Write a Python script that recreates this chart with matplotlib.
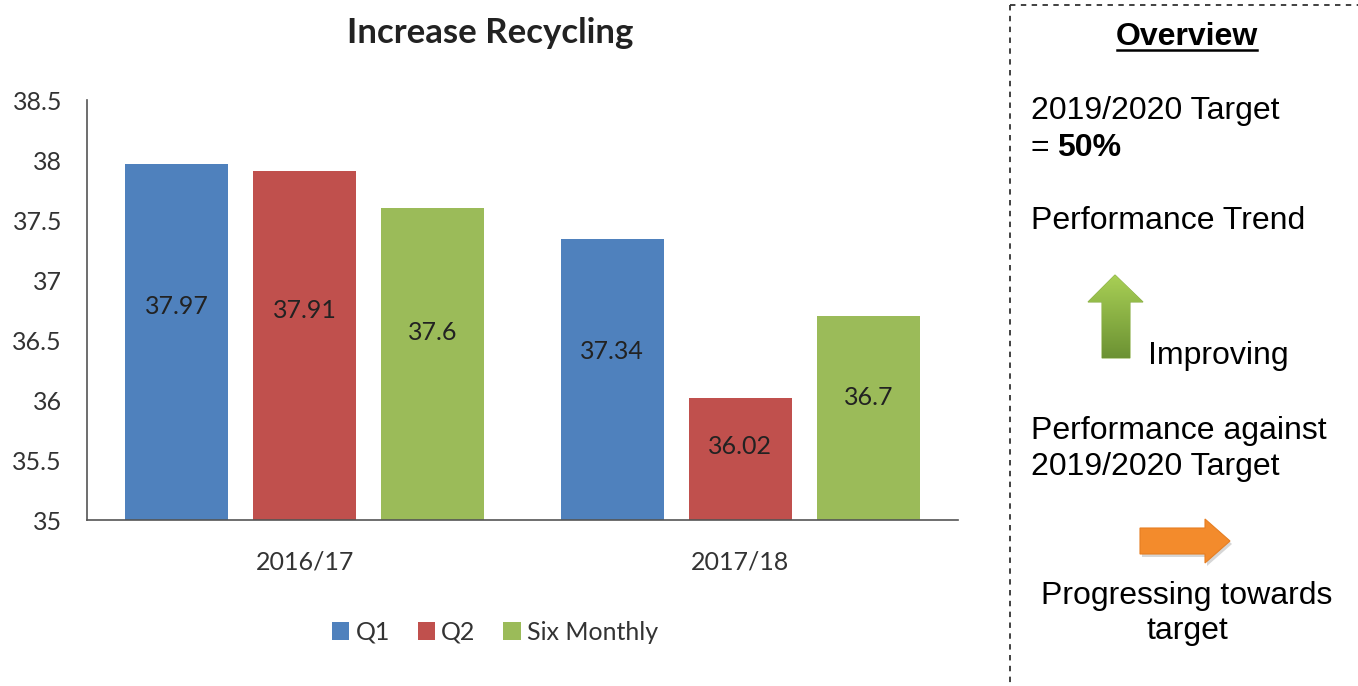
import numpy as np
import matplotlib.pyplot as plt
from matplotlib.patches import Polygon
from matplotlib.colors import LinearSegmentedColormap

# Data
years = ["2016/17", "2017/18"]
series_names = ["Q1", "Q2", "Six Monthly"]
q1 = [37.97, 37.34]
q2 = [37.91, 36.02]
six_monthly = [37.6, 36.7]
value_labels = [["37.97", "37.34"], ["37.91", "36.02"], ["37.6", "36.7"]]
y_ticks = [35, 35.5, 36, 36.5, 37, 37.5, 38, 38.5]
y_tick_labels = ["35", "35.5", "36", "36.5", "37", "37.5", "38", "38.5"]

colors = ["#4F81BD", "#C0504D", "#9BBB59"]
chart_font = "Lato"
panel_font = "Liberation Sans"
fs = 18
pfs = 23

fig = plt.figure(figsize=(13.58, 6.86), dpi=100)

# Main bar chart
ax = fig.add_axes([87 / 1358, 1 - 520 / 686, (958 - 87) / 1358, 420 / 686])
x = np.arange(len(years))
step = 0.294
width = 0.236
for i, (name, vals) in enumerate(zip(series_names, [q1, q2, six_monthly])):
    pos = x + (i - 1) * step
    ax.bar(pos, [v - 35 for v in vals], width, bottom=35, color=colors[i], label=name)
    for p, v, lab in zip(pos, vals, value_labels[i]):
        ax.text(p, 35 + 0.6 * (v - 35), lab, ha="center", va="center",
                fontsize=fs, family=chart_font, color="#222222")

ax.set_xlim(-0.5, 1.5)
ax.set_ylim(35, 38.5)
ax.set_yticks(y_ticks)
ax.set_yticklabels(y_tick_labels, family=chart_font, fontsize=fs, color="#333333")
ax.set_xticks(x)
ax.set_xticklabels(years, family=chart_font, fontsize=fs, color="#333333")
ax.tick_params(axis="both", length=0)
ax.tick_params(axis="y", pad=18)
ax.tick_params(axis="x", pad=22)
for s in ["top", "right"]:
    ax.spines[s].set_visible(False)
for s in ["left", "bottom"]:
    ax.spines[s].set_color("#555555")
    ax.spines[s].set_linewidth(1.2)

fig.text(490 / 1358, 1 - 33 / 686, "Increase Recycling", ha="center", va="center",
         fontsize=25, fontweight="bold", family=chart_font, color="#222222")

leg = ax.legend(loc="center", bbox_to_anchor=(495 / 1358, 1 - 632 / 686),
                bbox_transform=fig.transFigure, ncol=3, frameon=False,
                prop={"family": chart_font, "size": fs},
                handlelength=0.7, handleheight=0.7, handletextpad=0.25, columnspacing=1.1)
for t in leg.get_texts():
    t.set_color("#333333")

# Right overview panel, pixel coordinates
ov = fig.add_axes([0, 0, 1, 1])
ov.set_xlim(0, 1358)
ov.set_ylim(686, 0)
ov.axis("off")
ov.plot([1010, 1010], [5, 686], ls=(0, (3, 3)), color="#333333", lw=1.3)
ov.plot([1010, 1358], [5, 5], ls=(0, (3, 3)), color="#333333", lw=1.3)

ov.text(1187, 37, "Overview", ha="center", va="center", fontsize=pfs,
        fontweight="bold", family=panel_font)
ov.plot([1117, 1257], [50, 50], color="black", lw=1.8)

ov.text(1031, 111, "2019/2020 Target", ha="left", va="center", fontsize=pfs, family=panel_font)
ov.text(1031, 148, "=", ha="left", va="center", fontsize=pfs, family=panel_font)
ov.text(1057, 148, "50%", ha="left", va="center", fontsize=pfs, fontweight="bold", family=panel_font)
ov.text(1031, 221, "Performance Trend", ha="left", va="center", fontsize=pfs, family=panel_font)
ov.text(1148, 356, "Improving", ha="left", va="center", fontsize=pfs, family=panel_font)
ov.text(1031, 431, "Performance against", ha="left", va="center", fontsize=pfs, family=panel_font)
ov.text(1031, 467, "2019/2020 Target", ha="left", va="center", fontsize=pfs, family=panel_font)
ov.text(1187, 596, "Progressing towards", ha="center", va="center", fontsize=pfs, family=panel_font)
ov.text(1187, 631, "target", ha="center", va="center", fontsize=pfs, family=panel_font)

# Green up arrow with vertical gradient
up = Polygon([(1102, 358), (1102, 302), (1088, 302), (1115, 275), (1143, 302),
              (1130, 302), (1130, 358)], closed=True, facecolor="none",
             edgecolor="#8AAE45", lw=0.8)
ov.add_patch(up)
grad = np.linspace(0, 1, 100).reshape(-1, 1)
gcmap = LinearSegmentedColormap.from_list("g", ["#A8CF55", "#6C9233"])
im = ov.imshow(grad, cmap=gcmap, extent=(1088, 1143, 358, 275), aspect="auto", zorder=1)
im.set_clip_path(up)
ov.set_xlim(0, 1358)
ov.set_ylim(686, 0)

# Orange right arrow with shadow
right_pts = [(1140, 528), (1205, 528), (1205, 519), (1230, 541), (1205, 563),
             (1205, 554), (1140, 554)]
shadow = Polygon([(px + 2, py + 3) for px, py in right_pts], closed=True,
                 facecolor="#BBBBBB", edgecolor="none", alpha=0.6)
ov.add_patch(shadow)
ov.add_patch(Polygon(right_pts, closed=True, facecolor="#F38B2C", edgecolor="#E67E22", lw=0.8))

fig.savefig("out.png", dpi=100)
